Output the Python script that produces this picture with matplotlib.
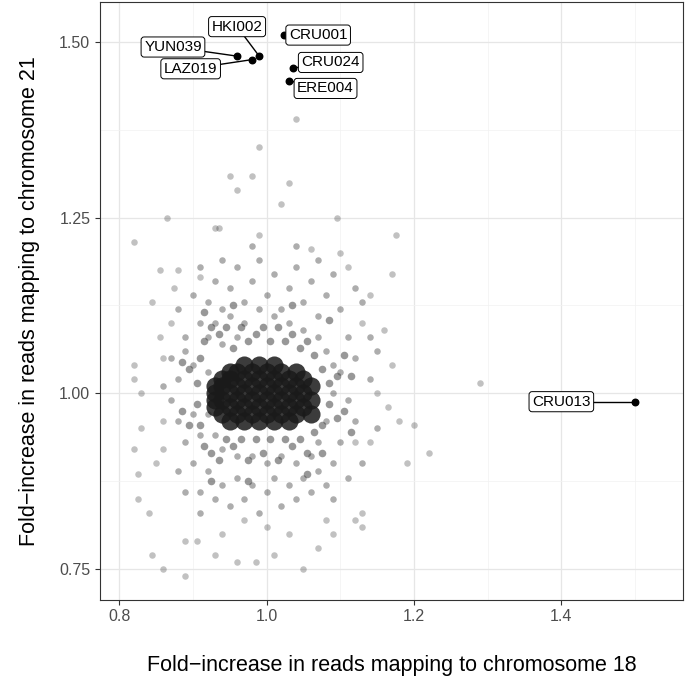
import matplotlib
matplotlib.use("Agg")
import matplotlib.pyplot as plt
from matplotlib.ticker import MultipleLocator

plt.rcParams["font.family"] = "Liberation Sans"

# outlying samples
outer_pts = [
    (1.04, 1.39), (0.99, 1.35), (0.95, 1.31), (0.96, 1.29), (0.98, 1.31), (1.03, 1.30),
    (1.02, 1.27), (0.93, 1.235), (0.935, 1.235), (0.865, 1.25), (0.82, 1.215), (0.99, 1.225),
    (1.06, 1.205), (1.095, 1.25), (1.175, 1.225), (1.17, 1.17), (0.855, 1.175), (0.88, 1.175),
    (0.845, 1.13), (0.875, 1.15), (0.91, 1.165), (1.10, 1.20), (1.11, 1.18), (1.14, 1.14),
    (1.13, 1.10), (1.16, 1.09), (1.29, 1.015), (1.20, 0.955), (1.22, 0.915), (1.19, 0.90),
    (1.165, 0.98), (1.17, 1.04), (1.15, 1.00), (1.18, 0.96), (1.14, 0.93), (1.12, 0.93),
    (1.13, 0.83), (1.12, 0.82), (1.13, 0.81), (0.82, 1.04), (0.82, 1.02), (0.83, 1.00),
    (0.83, 0.95), (0.82, 0.92), (0.825, 0.885), (0.825, 0.85), (0.84, 0.83), (0.85, 0.90),
    (0.86, 0.92), (0.86, 0.96), (0.86, 1.05), (0.855, 1.08), (0.87, 1.10), (0.845, 0.77),
    (0.86, 0.75), (0.89, 0.74), (0.89, 0.79), (0.905, 0.79), (0.93, 0.77), (0.96, 0.76),
    (0.985, 0.76), (1.01, 0.77), (1.05, 0.75), (1.07, 0.78), (1.03, 0.80), (0.94, 0.80),
    (1.00, 0.81), (0.97, 0.82), (1.08, 0.82), (1.09, 0.80),
]

ring_pts = [
    (0.88, 1.12), (0.89, 1.08), (0.90, 1.14), (0.91, 1.10), (0.92, 1.13), (0.93, 1.16),
    (0.94, 1.12), (0.95, 1.15), (0.96, 1.18), (0.97, 1.13), (0.98, 1.16), (0.99, 1.19),
    (1.00, 1.14), (1.01, 1.17), (1.02, 1.12), (1.03, 1.15), (1.04, 1.18), (1.05, 1.13),
    (1.06, 1.16), (1.07, 1.11), (1.08, 1.14), (1.09, 1.17), (1.10, 1.12), (1.11, 1.08),
    (1.12, 1.05), (1.10, 1.03), (1.11, 0.99), (1.12, 0.96), (1.10, 0.93), (1.09, 0.90),
    (1.08, 0.87), (1.07, 0.89), (1.06, 0.86), (1.05, 0.88), (1.04, 0.85), (1.03, 0.87),
    (1.02, 0.84), (1.01, 0.88), (1.00, 0.86), (0.99, 0.83), (0.98, 0.87), (0.97, 0.85),
    (0.96, 0.88), (0.95, 0.84), (0.94, 0.87), (0.93, 0.85), (0.92, 0.89), (0.91, 0.86),
    (0.90, 0.90), (0.89, 0.93), (0.88, 0.96), (0.87, 0.99), (0.88, 1.02), (0.87, 1.05),
    (0.89, 1.06), (0.90, 0.97), (0.91, 0.94), (0.90, 1.04), (0.92, 1.08), (0.93, 1.10),
    (0.95, 1.11), (0.97, 1.10), (0.99, 1.12), (1.01, 1.11), (1.03, 1.10), (1.05, 1.09),
    (1.07, 1.08), (1.08, 1.06), (1.09, 1.04), (1.09, 1.00), (1.08, 0.96), (1.07, 0.93),
    (1.06, 0.91), (1.04, 0.90), (1.02, 0.91), (1.00, 0.90), (0.98, 0.91), (0.96, 0.91),
    (0.94, 0.92), (0.93, 0.94), (0.92, 0.97), (0.92, 1.03), (0.94, 1.07), (0.96, 1.08),
    (1.13, 1.13), (1.15, 1.06), (1.14, 1.02), (1.15, 0.95), (1.13, 0.90), (1.11, 0.88),
    (1.09, 0.85), (0.86, 1.01), (0.88, 0.89), (0.89, 0.86), (0.91, 0.83), (0.98, 1.21),
    (1.04, 1.21), (1.07, 1.19), (0.94, 1.19), (0.91, 1.18), (1.12, 1.15), (1.14, 1.08),
]

# denser band between the ring and the core
inner_pts = [
    (0.905, 1.015), (0.905, 0.985), (0.91, 1.05), (0.91, 0.955), (0.915, 1.075), (0.915, 0.925),
    (0.925, 1.095), (0.925, 0.915), (0.935, 1.085), (0.935, 0.905), (0.945, 1.095), (0.945, 0.935),
    (0.955, 1.065), (0.955, 0.925), (0.965, 1.095), (0.965, 0.935), (0.975, 1.075), (0.975, 0.905),
    (0.985, 1.085), (0.985, 0.935), (0.995, 1.095), (0.995, 0.915), (1.005, 1.075), (1.005, 0.935),
    (1.015, 1.095), (1.015, 0.905), (1.025, 1.075), (1.025, 0.935), (1.035, 1.085), (1.035, 0.925),
    (1.045, 1.065), (1.045, 0.935), (1.055, 1.075), (1.055, 0.915), (1.065, 1.055), (1.065, 0.945),
    (1.075, 1.035), (1.075, 0.955), (1.085, 1.015), (1.085, 0.985), (1.095, 1.025), (1.095, 0.965),
    (1.105, 1.055), (1.105, 0.975), (1.115, 1.025), (1.115, 0.945), (0.895, 1.035), (0.895, 0.955),
    (0.885, 1.045), (0.885, 0.975), (0.955, 1.125), (1.035, 1.125), (0.975, 0.875), (1.055, 0.885),
    (0.915, 1.115), (1.085, 1.105), (0.925, 0.875), (1.075, 0.915),
]

core_rows = {
    0.96: [0.95, 0.97, 0.99, 1.01, 1.03],
    0.97: [0.94, 0.96, 0.98, 1.00, 1.02, 1.04, 1.06],
    0.98: [0.93, 0.95, 0.97, 0.99, 1.01, 1.03, 1.05],
    0.99: [0.93, 0.94, 0.96, 0.98, 1.00, 1.02, 1.04, 1.06],
    1.00: [0.93, 0.95, 0.97, 0.99, 1.01, 1.03, 1.05],
    1.01: [0.93, 0.94, 0.96, 0.98, 1.00, 1.02, 1.04, 1.06],
    1.02: [0.94, 0.95, 0.97, 0.99, 1.01, 1.03, 1.05],
    1.03: [0.95, 0.96, 0.98, 1.00, 1.02, 1.04],
    1.04: [0.97, 0.99, 1.01],
}

labels = ["CRU001", "HKI002", "YUN039", "LAZ019", "CRU024", "ERE004", "CRU013"]
label_x = [1.024, 0.99, 0.96, 0.98, 1.036, 1.03, 1.50]
label_y = [1.51, 1.48, 1.48, 1.475, 1.463, 1.445, 0.988]
text_x = [1.07, 0.96, 0.873, 0.897, 1.087, 1.08, 1.40]
text_y = [1.51, 1.522, 1.493, 1.462, 1.471, 1.434, 0.988]

fig = plt.figure(figsize=(6.85, 6.87), dpi=100)
ax = fig.add_axes([0.146, 0.127, 0.851, 0.870])

gray = "#333333"
ox, oy = zip(*outer_pts)
rx, ry = zip(*ring_pts)
ix, iy = zip(*inner_pts)
ax.scatter(ox, oy, s=22, color=gray, alpha=0.3, linewidths=0)
ax.scatter(rx, ry, s=22, color=gray, alpha=0.4, linewidths=0)
ax.scatter(ix, iy, s=30, color=gray, alpha=0.5, linewidths=0)
for yv, xs in core_rows.items():
    ax.scatter(xs, [yv] * len(xs), s=170, color="#1a1a1a", alpha=0.85, linewidths=0)

ax.scatter(label_x, label_y, s=22, color="black", zorder=4)
for lab, px, py, tx, ty in zip(labels, label_x, label_y, text_x, text_y):
    ax.plot([px, tx], [py, ty], color="black", lw=1, zorder=3)
    ax.text(tx, ty, lab, ha="center", va="center", fontsize=11, zorder=5,
            bbox=dict(boxstyle="round,pad=0.2", fc="white", ec="black", lw=0.7))

ax.set_xlim(0.774, 1.565)
ax.set_ylim(0.706, 1.557)
ax.set_xticks([0.8, 1.0, 1.2, 1.4])
ax.set_yticks([0.75, 1.00, 1.25, 1.50])
ax.set_yticklabels(["0.75", "1.00", "1.25", "1.50"])
ax.xaxis.set_minor_locator(MultipleLocator(0.1))
ax.yaxis.set_minor_locator(MultipleLocator(0.125))
ax.grid(True, which="major", color="#e6e6e6", lw=0.9)
ax.grid(True, which="minor", color="#f2f2f2", lw=0.5)
ax.set_axisbelow(True)
ax.tick_params(which="minor", length=0)
ax.tick_params(which="major", labelsize=11.5, labelcolor="#4d4d4d", color="#333333")
for s in ax.spines.values():
    s.set_color("#333333")

ax.set_xlabel("Fold\u2212increase in reads mapping to chromosome 18", fontsize=15.5, labelpad=22)
ax.set_ylabel("Fold\u2212increase in reads mapping to chromosome 21", fontsize=15.5, labelpad=14)

fig.savefig("out.png")
